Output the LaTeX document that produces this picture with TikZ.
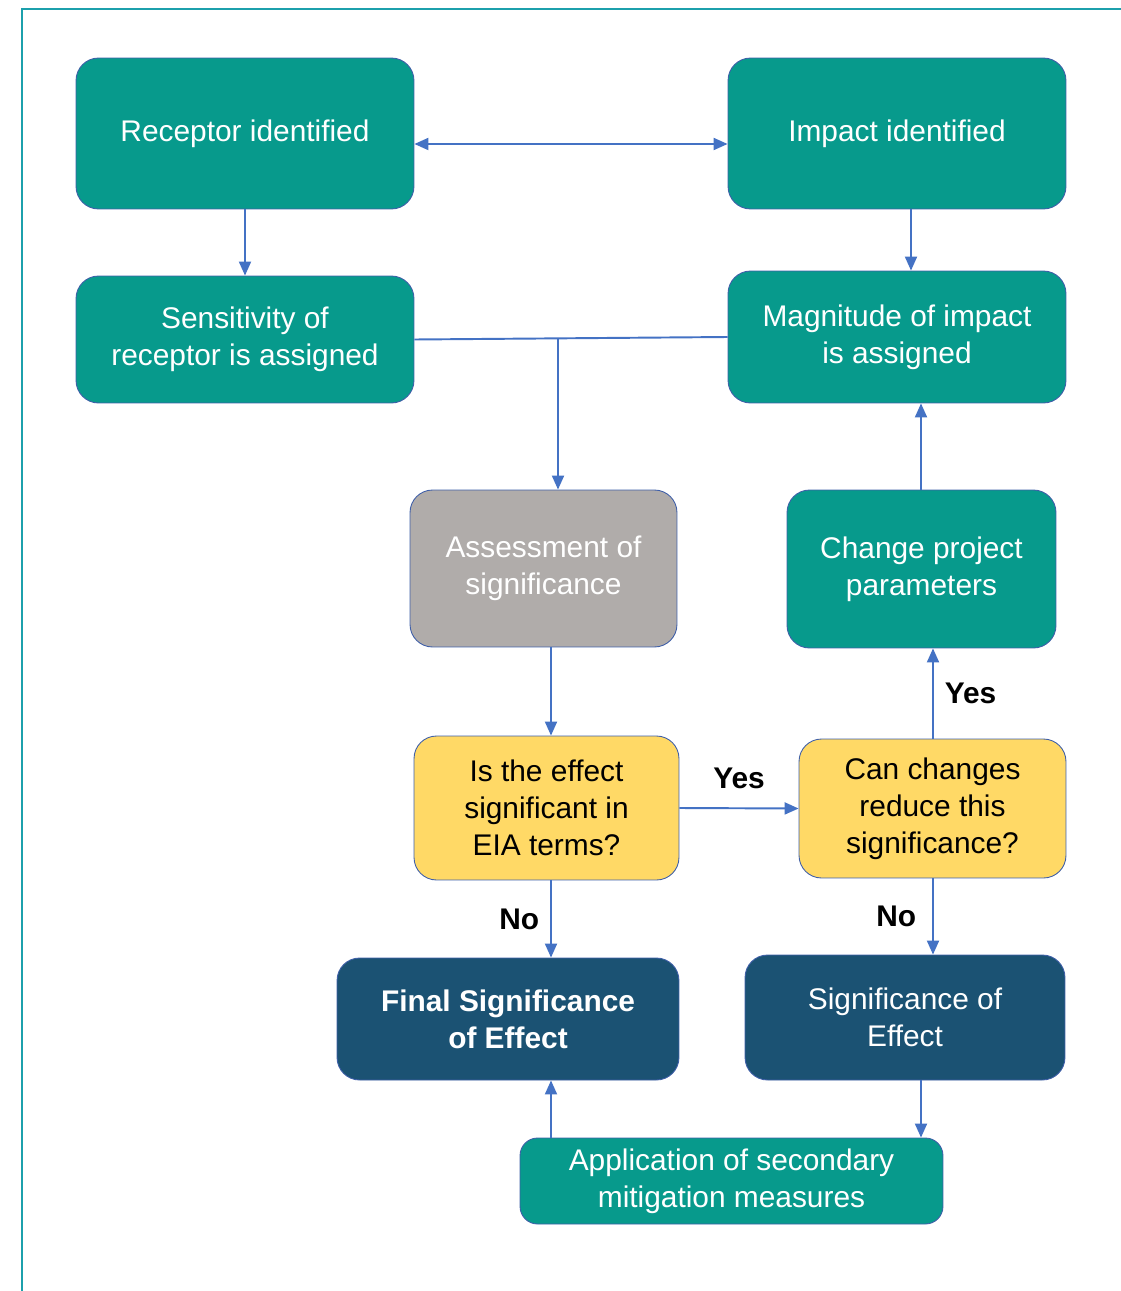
\documentclass[tikz,border=0pt]{standalone}
\usepackage{fontspec}
\setmainfont{Liberation Sans}
\usetikzlibrary{positioning}
\usetikzlibrary{arrows.meta}
\definecolor{tealbox}{HTML}{079A8C}
\definecolor{greybox}{HTML}{B0ACAA}
\definecolor{yellowbox}{HTML}{FFD966}
\definecolor{navybox}{HTML}{1B5273}
\definecolor{edgeblue}{HTML}{3F5FA8}
\definecolor{arrowblue}{HTML}{4472C4}
\definecolor{frameteal}{HTML}{1CA0AC}

\begin{document}
\begin{tikzpicture}[x=0.02cm, y=-0.02cm,
    box/.style={draw=edgeblue, line width=0.5pt, rounded corners=0.45cm,
      align=center, inner sep=0pt, font=\fontsize{17}{21}\selectfont},
    tealnode/.style={box, fill=tealbox, text=white},
    greynode/.style={box, fill=greybox, text=white},
    asknode/.style={box, fill=yellowbox, text=black},
    navynode/.style={box, fill=navybox, text=white},
    arr/.style={draw=arrowblue, line width=1.1pt, -{Triangle[length=0.28cm,width=0.24cm]}},
    answer/.style={font=\fontsize{17}{20}\selectfont\bfseries, text=black}]
      \useasboundingbox (0,0) rectangle (1121,1291);
      \draw[frameteal, line width=1.6pt] (22,1291) -- (22,9) -- (1121,9);

      \node[tealnode, minimum width=6.76cm, minimum height=3.02cm] (receptor) at (245,133.5) {Receptor identified};
      \node[tealnode, minimum width=6.76cm, minimum height=3.02cm] (impact) at (897,133.5) {Impact identified};
      \node[tealnode, minimum width=6.76cm, minimum height=2.54cm] (sensitivity) at (245,339.5) {Sensitivity of\\receptor is assigned};
      \node[tealnode, minimum width=6.76cm, minimum height=2.64cm] (magnitude) at (897,337) {Magnitude of impact\\is assigned};
      \node[greynode, minimum width=5.34cm, minimum height=3.14cm] (assessment) at (543.5,568.5) {Assessment of\\significance};
      \node[tealnode, minimum width=5.38cm, minimum height=3.16cm] (change) at (921.5,569) {Change project\\parameters};
      \node[asknode, minimum width=5.3cm, minimum height=2.88cm] (significant) at (546.5,808) {Is the effect\\significant in\\EIA terms?};
      \node[asknode, minimum width=5.34cm, minimum height=2.78cm] (reduce) at (932.5,808.5) {Can changes\\reduce this\\significance?};
      \node[navynode, minimum width=6.84cm, minimum height=2.44cm, font=\fontsize{17}{21}\selectfont\bfseries] (final) at (508,1019) {Final Significance\\of Effect};
      \node[navynode, minimum width=6.4cm, minimum height=2.5cm] (effect) at (905,1017.5) {Significance of\\Effect};
      \node[tealnode, minimum width=8.46cm, minimum height=1.72cm, rounded corners=0.35cm] (mitigation) at (731.5,1181) {Application of secondary\\mitigation measures};

      \coordinate (split) at (558,338);

      \draw[arr, {Triangle[length=0.28cm,width=0.24cm]}-{Triangle[length=0.28cm,width=0.24cm]}] ([yshift=-0.21cm]receptor.east) -- ([yshift=-0.21cm]impact.west);
      \draw[arr] (receptor.south) -- (sensitivity.north);
      \draw[arr] ([xshift=0.28cm]impact.south) -- ([xshift=0.28cm]impact.south |- magnitude.north);
      \draw[arrowblue, line width=1.1pt] (sensitivity.east) -- (magnitude.west);
      \draw[arr] (split) -- (split |- assessment.north);
      \draw[arr] ([xshift=-0.01cm]change.north) -- ([xshift=-0.01cm]change.north |- magnitude.south);
      \draw[arr] ([xshift=0.15cm]assessment.south) -- ([xshift=0.15cm]assessment.south |- significant.north);
      \draw[arr] (significant.east) -- node[answer, above=0.25cm] {Yes} (reduce.west);
      \draw[arr] ([xshift=0.01cm]reduce.north) -- node[answer, right=0.1cm] {Yes} ([xshift=0.01cm]reduce.north |- change.south);
      \draw[arr] ([xshift=0.09cm]significant.south) -- node[answer, left=0.1cm] {No} ([xshift=0.09cm]significant.south |- final.north);
      \draw[arr] ([xshift=0.01cm]reduce.south) -- node[answer, left=0.2cm] {No} ([xshift=0.01cm]reduce.south |- effect.north);
      \draw[arr] ([xshift=0.32cm]effect.south) -- ([xshift=0.32cm]effect.south |- mitigation.north);
      \draw[arr] ([xshift=0.86cm]final.south |- mitigation.north) -- ([xshift=0.86cm]final.south);
    \end{tikzpicture}
\end{document}
